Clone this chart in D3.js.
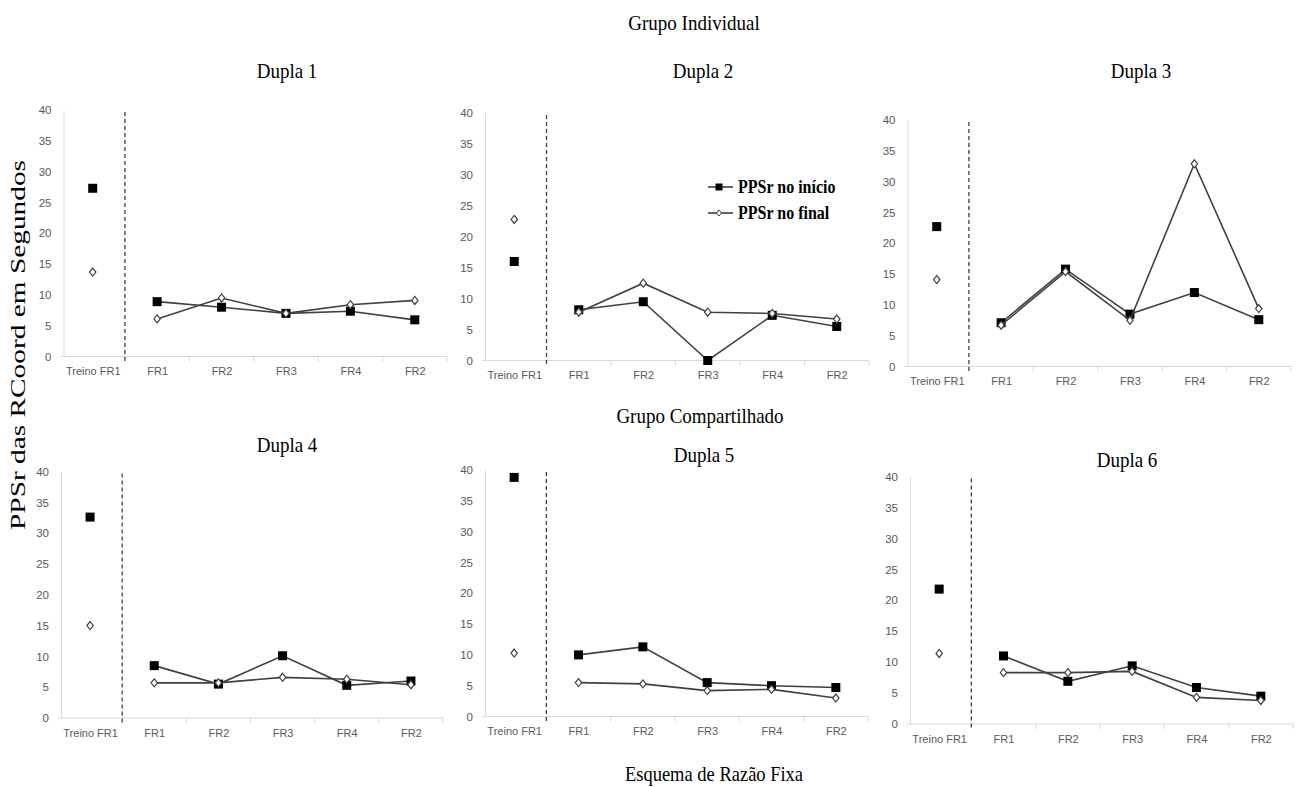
<!DOCTYPE html>
<html>
<head>
<meta charset="utf-8">
<script src="https://cdn.jsdelivr.net/npm/d3@7"></script>
<style>
  html, body { margin: 0; padding: 0; background: #fff; }
  svg { display: block; }
</style>
</head>
<body>
<svg id="chart" width="1296" height="787"></svg>
<script>
// ---------------- DATA ----------------
const categories = ["Treino FR1", "FR1", "FR2", "FR3", "FR4", "FR2"];
const yTicks = [0, 5, 10, 15, 20, 25, 30, 35, 40];
const duplaNames = ["Dupla 1", "Dupla 2", "Dupla 3", "Dupla 4", "Dupla 5", "Dupla 6"];
const seriesNames = ["PPSr no início", "PPSr no final"];

const d1Inicio = [27.3, 8.9, 8.0, 7.0, 7.35, 5.95];
const d1Final  = [13.7, 6.1, 9.5, 7.0, 8.4, 9.1];
const d2Inicio = [16.0, 8.2, 9.5, 0.0, 7.3, 5.5];
const d2Final  = [22.8, 7.8, 12.5, 7.8, 7.6, 6.7];
const d3Inicio = [22.7, 7.1, 15.8, 8.5, 12.0, 7.6];
const d3Final  = [14.1, 6.7, 15.4, 7.5, 32.9, 9.4];
const d4Inicio = [32.6, 8.5, 5.5, 10.1, 5.3, 6.0];
const d4Final  = [15.0, 5.7, 5.7, 6.6, 6.3, 5.4];
const d5Inicio = [38.8, 10.0, 11.3, 5.5, 5.0, 4.7];
const d5Final  = [10.3, 5.5, 5.3, 4.2, 4.4, 3.0];
const d6Inicio = [21.8, 11.0, 6.9, 9.4, 5.9, 4.5];
const d6Final  = [11.4, 8.3, 8.3, 8.5, 4.3, 3.8];

const inicioSeries = [d1Inicio, d2Inicio, d3Inicio, d4Inicio, d5Inicio, d6Inicio];
const finalSeries  = [d1Final, d2Final, d3Final, d4Final, d5Final, d6Final];

// ---------------- LAYOUT ----------------
const layout = [
  { L: 60.5, R: 447, top: 110, bottom: 356.5, tx: 287, ty: 78 },
  { L: 482,  R: 869, top: 113, bottom: 360.5, tx: 703, ty: 78 },
  { L: 904.5,R: 1291, top: 120, bottom: 366.5, tx: 1141, ty: 78 },
  { L: 58,   R: 443, top: 471.5, bottom: 718, tx: 287, ty: 452 },
  { L: 482,  R: 868, top: 470, bottom: 716.5, tx: 704, ty: 462 },
  { L: 907,  R: 1293, top: 476.5, bottom: 724, tx: 1127, ty: 467 }
];

const serif = "'Liberation Serif', 'Times New Roman', serif";
const sans = "'Liberation Sans', Arial, sans-serif";
const axisGray = "#d9d9d9";
const labelGray = "#595959";
const lineColor = "#404040";

const svg = d3.select("#chart");

function serifText(x, y, txt, size, opts = {}) {
  return svg.append("text")
    .attr("transform", `translate(${x},${y}) scale(1,${opts.sy || 1.15})`)
    .attr("text-anchor", opts.anchor || "middle")
    .attr("font-family", serif)
    .attr("font-size", size)
    .attr("font-weight", opts.weight || "normal")
    .attr("fill", "#000")
    .text(txt);
}

// Section headers
serifText(694, 30, "Grupo Individual", 19);
serifText(700, 423, "Grupo Compartilhado", 19);
serifText(714, 781, "Esquema de Razão Fixa", 18.5);

// Rotated Y label
svg.append("text")
  .attr("transform", "translate(25,345) rotate(-90)")
  .attr("text-anchor", "middle")
  .attr("font-family", serif)
  .attr("font-size", 21)
  .attr("textLength", 370)
  .attr("lengthAdjust", "spacingAndGlyphs")
  .attr("fill", "#000")
  .text("PPSr das RCoord em Segundos");

const diamond = (cx, cy) => `M${cx},${cy - 4}L${cx + 3.2},${cy}L${cx},${cy + 4}L${cx - 3.2},${cy}Z`;

layout.forEach((p, i) => {
  const g = svg.append("g");
  const idx = d3.range(categories.length);
  const x = d3.scalePoint().domain(idx).range([p.L, p.R]).padding(0.5);
  const step = x.step();
  const y = d3.scaleLinear().domain([0, 40]).range([p.bottom, p.top]);

  // Title
  serifText(p.tx, p.ty, duplaNames[i], 19);

  // Y axis (line + labels, no ticks)
  const yAxis = d3.axisLeft(y).tickValues(yTicks).tickSize(0).tickPadding(12);
  const ya = g.append("g").attr("transform", `translate(${p.L + 3},0)`).call(yAxis);
  ya.select(".domain").attr("stroke", axisGray).attr("stroke-width", 1);
  ya.selectAll("text").attr("font-family", sans).attr("font-size", 11.5).attr("fill", labelGray);

  // X axis
  const xAxis = d3.axisBottom(x).tickSize(0).tickPadding(11).tickFormat(d => categories[d]);
  const xa = g.append("g").attr("transform", `translate(0,${p.bottom})`).call(xAxis);
  xa.select(".domain").remove();
  xa.selectAll("text").attr("font-family", sans).attr("font-size", 11).attr("fill", labelGray);
  g.append("line")
    .attr("x1", p.L).attr("x2", p.R)
    .attr("y1", p.bottom).attr("y2", p.bottom)
    .attr("stroke", axisGray).attr("stroke-width", 1);
  // boundary ticks
  const bounds = d3.range(2, categories.length + 1).map(k => p.L + k * step);
  g.selectAll(".bt").data(bounds).enter().append("line")
    .attr("x1", d => d).attr("x2", d => d)
    .attr("y1", p.bottom).attr("y2", p.bottom + 5)
    .attr("stroke", axisGray).attr("stroke-width", 1);

  // Phase change dashed line
  const bx = p.L + step;
  g.append("line")
    .attr("x1", bx).attr("x2", bx)
    .attr("y1", y(40) + 2).attr("y2", p.bottom + 5)
    .attr("stroke", lineColor).attr("stroke-width", 1.3)
    .attr("stroke-dasharray", "4,3");

  const line = d3.line()
    .defined((d, k) => k > 0)
    .x((d, k) => x(k))
    .y(d => y(d));

  // Series 1: início (squares)
  const s1 = inicioSeries[i];
  g.append("path").datum(s1).attr("d", line)
    .attr("fill", "none").attr("stroke", lineColor).attr("stroke-width", 1.6);
  g.selectAll(".sq").data(s1).enter().append("rect")
    .attr("x", (d, k) => x(k) - 4.5).attr("y", d => y(d) - 4.5)
    .attr("width", 9).attr("height", 9)
    .attr("fill", "#000");

  // Series 2: final (diamonds)
  const s2 = finalSeries[i];
  g.append("path").datum(s2).attr("d", line)
    .attr("fill", "none").attr("stroke", lineColor).attr("stroke-width", 1.6);
  g.selectAll(".dm").data(s2).enter().append("path")
    .attr("d", (d, k) => diamond(x(k), y(d)))
    .attr("fill", "#fff").attr("stroke", lineColor).attr("stroke-width", 1.2);
});

// Legend (inside Dupla 2 panel)
const legendRows = [
  { name: seriesNames[0], y: 187, kind: "square" },
  { name: seriesNames[1], y: 213, kind: "diamond" }
];
legendRows.forEach(r => {
  svg.append("line").attr("x1", 708).attr("x2", 733).attr("y1", r.y).attr("y2", r.y)
    .attr("stroke", lineColor).attr("stroke-width", 1.6);
  if (r.kind === "square") {
    svg.append("rect").attr("x", 719 - 3.5).attr("y", r.y - 3.5).attr("width", 7).attr("height", 7).attr("fill", "#000");
  } else {
    svg.append("path").attr("d", `M719,${r.y - 3}L721.5,${r.y}L719,${r.y + 3}L716.5,${r.y}Z`)
      .attr("fill", "#fff").attr("stroke", lineColor).attr("stroke-width", 1);
  }
  serifText(738, r.y + 5.5, r.name, 16, { anchor: "start", weight: "bold", sy: 1.15 });
});
</script>
</body>
</html>
